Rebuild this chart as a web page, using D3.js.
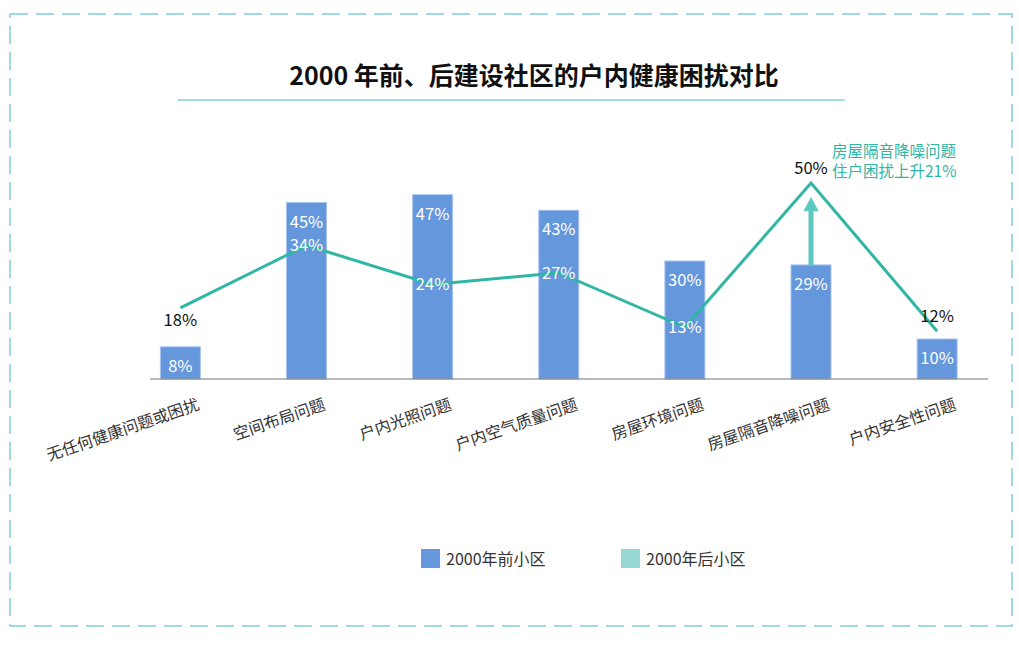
<!DOCTYPE html>
<html>
<head>
<meta charset="utf-8">
<script src="https://cdn.jsdelivr.net/npm/d3@7"></script>
<style>
  body { margin: 0; background: #fff; }
  text { font-family: "Noto Sans CJK SC", "Noto Sans", sans-serif; }
</style>
</head>
<body>
<svg id="chart" width="1019" height="656"></svg>
<script>
"use strict";
const TITLE = "2000 年前、后建设社区的户内健康困扰对比";
const CATEGORIES = ["无任何健康问题或困扰", "空间布局问题", "户内光照问题", "户内空气质量问题",
                    "房屋环境问题", "房屋隔音降噪问题", "户内安全性问题"];
const BEFORE_2000 = [8, 45, 47, 43, 30, 29, 10];
const AFTER_2000 = [18, 34, 24, 27, 13, 50, 12];
const SERIES_NAMES = ["2000年前小区", "2000年后小区"];
const NOTE_LINES = ["房屋隔音降噪问题", "住户困扰上升21%"];
const NOTE_INDEX = 5;

const COLORS = {
  bar: "#6497dc",
  barEdge: "#a8c4ee",
  line: "#2fb6a4",
  arrow: "#5bc9bf",
  legendLine: "#95d7d3",
  frame: "#7fd0dc",
  rule: "#a4dde6"
};

class Chart {
  constructor(svg) {
    this.svg = d3.select(svg);
    this.x = d3.scaleBand().domain(CATEGORIES).range([117.5, 1000]).paddingInner(0.683).paddingOuter(0.34);
    this.y = d3.scaleLinear().domain([0, 50]).range([378, 183]);
    this.baseY = 379;

    this.drawFrame();
    this.drawTitle();
    this.drawBars();
    this.drawLine();
    this.drawNote();
    this.drawAxis();
    this.drawLegend();
  }

  cx(cat) {
    return this.x(cat) + this.x.bandwidth() / 2;
  }

  drawFrame() {
    this.svg.append("rect")
      .attr("x", 10).attr("y", 14)
      .attr("width", 1002).attr("height", 612)
      .style("fill", "none")
      .style("stroke", COLORS.frame)
      .style("stroke-width", 1.5)
      .style("stroke-dasharray", "18,8");
  }

  drawTitle() {
    this.svg.append("text")
      .attr("x", 534).attr("y", 85)
      .attr("text-anchor", "middle")
      .style("font-size", "25px")
      .style("font-weight", "bold")
      .style("fill", "#111")
      .text(TITLE);
    this.svg.append("line")
      .attr("x1", 178).attr("x2", 845)
      .attr("y1", 100).attr("y2", 100)
      .style("stroke", COLORS.rule)
      .style("stroke-width", 2);
  }

  drawBars() {
    let g = this.svg.append("g").attr("class", "bars");
    g.selectAll("rect")
      .data(BEFORE_2000)
      .enter()
      .append("rect")
      .attr("x", (d, i) => this.x(CATEGORIES[i]))
      .attr("y", d => this.y(d))
      .attr("width", this.x.bandwidth())
      .attr("height", d => this.baseY - this.y(d))
      .style("fill", COLORS.bar)
      .style("stroke", COLORS.barEdge)
      .style("stroke-width", 1);

    g.selectAll("text")
      .data(BEFORE_2000)
      .enter()
      .append("text")
      .attr("x", (d, i) => this.cx(CATEGORIES[i]))
      .attr("y", d => this.y(d) + 25)
      .attr("text-anchor", "middle")
      .style("font-size", "16.5px")
      .style("fill", "#fff")
      .text(d => d + "%");
  }

  drawLine() {
    let pts = AFTER_2000.map((d, i) => [this.cx(CATEGORIES[i]), this.y(d)]);
    this.svg.append("path")
      .attr("d", d3.line()(pts))
      .style("fill", "none")
      .style("stroke", COLORS.line)
      .style("stroke-width", 3);

    // labels: white on the bars, black where the point sits above the bar
    this.svg.append("g").selectAll("text")
      .data(AFTER_2000)
      .enter()
      .append("text")
      .attr("x", (d, i) => pts[i][0])
      .attr("y", (d, i) => {
        if (d < BEFORE_2000[i]) return pts[i][1] + 6;
        if (i === 0) return pts[i][1] + 18;
        return pts[i][1] - 9;
      })
      .attr("text-anchor", "middle")
      .style("font-size", "16.5px")
      .style("fill", (d, i) => d < BEFORE_2000[i] ? "#fff" : "#111")
      .text(d => d + "%");
  }

  drawNote() {
    let cat = CATEGORIES[NOTE_INDEX];
    let x = this.cx(cat);
    let y0 = this.y(BEFORE_2000[NOTE_INDEX]);
    let tip = this.y(AFTER_2000[NOTE_INDEX]) + 14;
    let arrow = this.svg.append("g").attr("class", "note");
    arrow.append("line")
      .attr("x1", x).attr("x2", x)
      .attr("y1", y0).attr("y2", tip + 12)
      .style("stroke", COLORS.arrow)
      .style("stroke-width", 5);
    arrow.append("path")
      .attr("d", `M${x},${tip} L${x - 7.5},${tip + 14} L${x + 7.5},${tip + 14} Z`)
      .style("fill", COLORS.arrow);

    arrow.selectAll("text")
      .data(NOTE_LINES)
      .enter()
      .append("text")
      .attr("x", x + 21)
      .attr("y", (d, i) => 157 + i * 20)
      .style("font-size", "15.5px")
      .style("fill", COLORS.line)
      .text(d => d);
  }

  drawAxis() {
    this.svg.append("line")
      .attr("x1", 150).attr("x2", 988)
      .attr("y1", this.baseY).attr("y2", this.baseY)
      .style("stroke", "#777")
      .style("stroke-width", 1.2);

    // slanted category labels
    this.svg.append("g").selectAll("text")
      .data(CATEGORIES)
      .enter()
      .append("text")
      .attr("transform", d => `translate(${this.cx(d) + 20},${this.baseY + 30}) rotate(-19)`)
      .attr("text-anchor", "end")
      .style("font-size", "16px")
      .style("fill", "#333")
      .text(d => d);
  }

  drawLegend() {
    let items = [
      { name: SERIES_NAMES[0], color: COLORS.bar, x: 421 },
      { name: SERIES_NAMES[1], color: COLORS.legendLine, x: 621 }
    ];
    let g = this.svg.append("g").attr("class", "legend");
    let item = g.selectAll("g").data(items).enter().append("g")
      .attr("transform", d => `translate(${d.x},549)`);
    item.append("rect")
      .attr("width", 19).attr("height", 19)
      .style("fill", d => d.color);
    item.append("text")
      .attr("x", 25).attr("y", 16)
      .style("font-size", "16px")
      .style("fill", "#333")
      .text(d => d.name);
  }
}

new Chart("#chart");
</script>
</body>
</html>
